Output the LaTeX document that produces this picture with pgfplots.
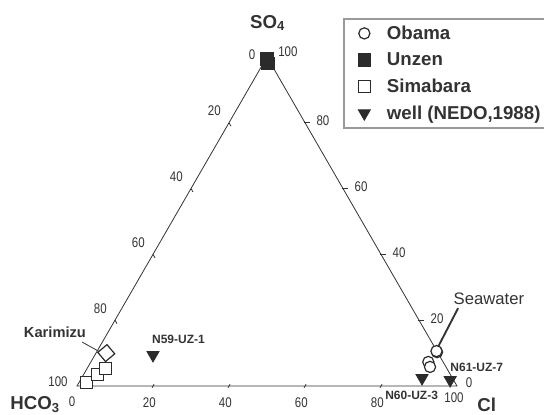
\documentclass[border=0pt]{standalone}
\usepackage{pgfplots}
\pgfplotsset{compat=1.18}
\usepackage{pgfplotstable}
\usepackage{fontspec}
\setmainfont{Liberation Sans}
\newfontfamily\narrowfont[FakeStretch=0.82]{Liberation Sans}
\definecolor{ink}{HTML}{333333}
\definecolor{mk}{HTML}{2B2B2B}
\newcommand\tl{\narrowfont\fontsize{10.5}{12}\selectfont}
\pgfplotsset{lgm/.style={legend image code/.code={%
  \draw[##1] plot coordinates {(0.35cm,0cm)};
  \path (0cm,0cm) (0.86cm,0cm);}}}

% ternary values in percent: SO4, Cl (HCO3 = 100 - SO4 - Cl)
\pgfplotstableread{
SO4 Cl
10.3 89.6
10.6 89.3
7.3 88.8
5.8 90.0
}\obama
\pgfplotstableread{
SO4 Cl
98.0 1.3
99.3 0.4
}\unzen
\pgfplotstableread{
SO4 Cl
1.0 2.0
3.4 3.7
5.2 5.0
}\simabara
\pgfplotstableread{
SO4 Cl
10.0 2.7
}\karimizu
\pgfplotstableread{
SO4 Cl
9.4 15.3
2.4 89.6
1.8 97.3
}\well

\begin{document}
\begin{tikzpicture}
\begin{axis}[
  x=2.85pt, y=2.85pt,
  xmin=-20.263, xmax=122.895, ymin=-7.632, ymax=101.579,
  hide axis, clip=false,
  legend cell align=left,
  legend style={at={(axis cs:70,96.8)}, anchor=north west,
    draw=black!40, line width=1.2pt, fill=white,
    font=\bfseries\fontsize{14}{16}\selectfont, text=ink,
    row sep=4.5pt, inner xsep=5pt, inner ysep=3pt},
]
\coordinate (BL) at (rel axis cs:0,0);
\coordinate (TR) at (rel axis cs:1,1);

% triangle
\draw[ink, line width=0.6pt] (axis cs:0,0) -- (axis cs:100,0) -- (axis cs:50,86.6025) -- cycle;

% bottom ticks (Cl)
\draw[ink, line width=0.6pt] (axis cs:20,0) ++(-0.7pt,-1.3pt) -- ++(1.5pt,2.6pt);
\draw[ink, line width=0.6pt] (axis cs:40,0) ++(-0.7pt,-1.3pt) -- ++(1.5pt,2.6pt);
\draw[ink, line width=0.6pt] (axis cs:60,0) ++(-0.7pt,-1.3pt) -- ++(1.5pt,2.6pt);
\draw[ink, line width=0.6pt] (axis cs:80,0) ++(-0.7pt,-1.3pt) -- ++(1.5pt,2.6pt);
\node[font=\tl, text=ink, xshift=-2.8pt] at (axis cs:20,-4.5) {20};
\node[font=\tl, text=ink, xshift=-2.8pt] at (axis cs:40,-4.5) {40};
\node[font=\tl, text=ink, xshift=-2.8pt] at (axis cs:60,-4.5) {60};
\node[font=\tl, text=ink, xshift=-2.8pt] at (axis cs:80,-4.5) {80};
% left ticks (HCO3)
\draw[ink, line width=0.6pt] (axis cs:10,17.3205) -- ++(1.5pt,-2.6pt);
\draw[ink, line width=0.6pt] (axis cs:20,34.641) -- ++(1.5pt,-2.6pt);
\draw[ink, line width=0.6pt] (axis cs:30,51.9615) -- ++(1.5pt,-2.6pt);
\draw[ink, line width=0.6pt] (axis cs:40,69.282) -- ++(1.5pt,-2.6pt);
\node[font=\tl, text=ink, xshift=-11pt, yshift=9pt] at (axis cs:10,17.3205) {80};
\node[font=\tl, text=ink, xshift=-11pt, yshift=9pt] at (axis cs:20,34.641) {60};
\node[font=\tl, text=ink, xshift=-11pt, yshift=9pt] at (axis cs:30,51.9615) {40};
\node[font=\tl, text=ink, xshift=-11pt, yshift=9pt] at (axis cs:40,69.282) {20};
% right ticks (SO4)
\draw[ink, line width=0.6pt] (axis cs:60,69.282) ++(-1pt,0pt) -- ++(4.5pt,0pt);
\draw[ink, line width=0.6pt] (axis cs:70,51.9615) ++(-1pt,0pt) -- ++(4.5pt,0pt);
\draw[ink, line width=0.6pt] (axis cs:80,34.641) ++(-1pt,0pt) -- ++(4.5pt,0pt);
\draw[ink, line width=0.6pt] (axis cs:90,17.3205) ++(-1pt,0pt) -- ++(4.5pt,0pt);
\node[font=\tl, text=ink, xshift=13.5pt, yshift=1.5pt] at (axis cs:60,69.282) {80};
\node[font=\tl, text=ink, xshift=13.5pt, yshift=1.5pt] at (axis cs:70,51.9615) {60};
\node[font=\tl, text=ink, xshift=13.5pt, yshift=1.5pt] at (axis cs:80,34.641) {40};
\node[font=\tl, text=ink, xshift=13.5pt, yshift=1.5pt] at (axis cs:90,17.3205) {20};
% end labels
\node[font=\tl, text=ink] at (axis cs:46.05,87.1) {0};
\node[font=\tl, text=ink] at (axis cs:55.5,87.9) {100};
\node[font=\tl, text=ink] at (axis cs:-5.0,1.05) {100};
\node[font=\tl, text=ink] at (axis cs:-1.3,-4.2) {0};
\node[font=\tl, text=ink] at (axis cs:99.2,-3.2) {100};
\node[font=\tl, text=ink] at (axis cs:103.2,0.8) {0};

% vertex titles
\node[font=\bfseries\fontsize{14}{16}\selectfont, text=ink, anchor=base west, inner sep=0pt] at (axis cs:45.5,94.2) {SO\textsubscript{4}};
\node[font=\bfseries\fontsize{14}{16}\selectfont, text=ink, anchor=base west, inner sep=0pt] at (axis cs:-17.6,-6.2) {HCO\textsubscript{3}};
\node[font=\bfseries\fontsize{14}{16}\selectfont, text=ink, anchor=base west, inner sep=0pt] at (axis cs:105.3,-6.6) {Cl};

% annotations
\draw[ink, line width=0.6pt] (axis cs:1.32,11.58) -- (axis cs:6.05,8.95);
\node[font=\bfseries\fontsize{11}{13}\selectfont, text=ink] at (axis cs:-5.8,14.2) {Karimizu};
\draw[ink, line width=1.4pt] (axis cs:100.3,20.5) -- (axis cs:95.0,10.26);
\node[font=\fontsize{12.5}{14}\selectfont, text=ink] at (axis cs:108.4,22.9) {Seawater};
\node[font=\bfseries\fontsize{9}{11}\selectfont, text=ink, anchor=west, inner sep=0pt] at (axis cs:19.7,12.4) {N59-UZ-1};
\node[font=\bfseries\fontsize{9}{11}\selectfont, text=ink, anchor=west, inner sep=0pt] at (axis cs:98.2,5.0) {N61-UZ-7};
\node[font=\bfseries\fontsize{9}{11}\selectfont, text=ink, anchor=west, inner sep=0pt] at (axis cs:81.05,-2.37) {N60-UZ-3};

% data
\addplot[only marks, lgm, mark=*, mark size=4.2pt, line width=0.9pt, draw=mk, fill=white]
  table[x expr=\thisrow{Cl}+0.5*\thisrow{SO4}, y expr=0.8660254*\thisrow{SO4}] {\obama};
\addlegendentry{Obama}
\addplot[only marks, lgm, mark=square*, mark size=4.8pt, line width=0.6pt, draw=mk, fill=mk]
  table[x expr=\thisrow{Cl}+0.5*\thisrow{SO4}, y expr=0.8660254*\thisrow{SO4}] {\unzen};
\addlegendentry{Unzen}
\addplot[only marks, lgm, mark=square*, mark size=4.5pt, line width=0.9pt, draw=mk, fill=white]
  table[x expr=\thisrow{Cl}+0.5*\thisrow{SO4}, y expr=0.8660254*\thisrow{SO4}] {\simabara};
\addlegendentry{Simabara}
\addplot[only marks, lgm, mark=triangle*, mark size=5.2pt, mark options={rotate=180}, line width=0.6pt, draw=mk, fill=mk]
  table[x expr=\thisrow{Cl}+0.5*\thisrow{SO4}, y expr=0.8660254*\thisrow{SO4}] {\well};
\addlegendentry{well (NEDO,1988)}
\addplot[forget plot, only marks, mark=square*, mark size=4.5pt, mark options={rotate=40}, line width=0.9pt, draw=mk, fill=white]
  table[x expr=\thisrow{Cl}+0.5*\thisrow{SO4}, y expr=0.8660254*\thisrow{SO4}] {\karimizu};
\end{axis}
\pgfresetboundingbox
\path[use as bounding box] (BL) rectangle (TR);
\end{tikzpicture}
\end{document}
